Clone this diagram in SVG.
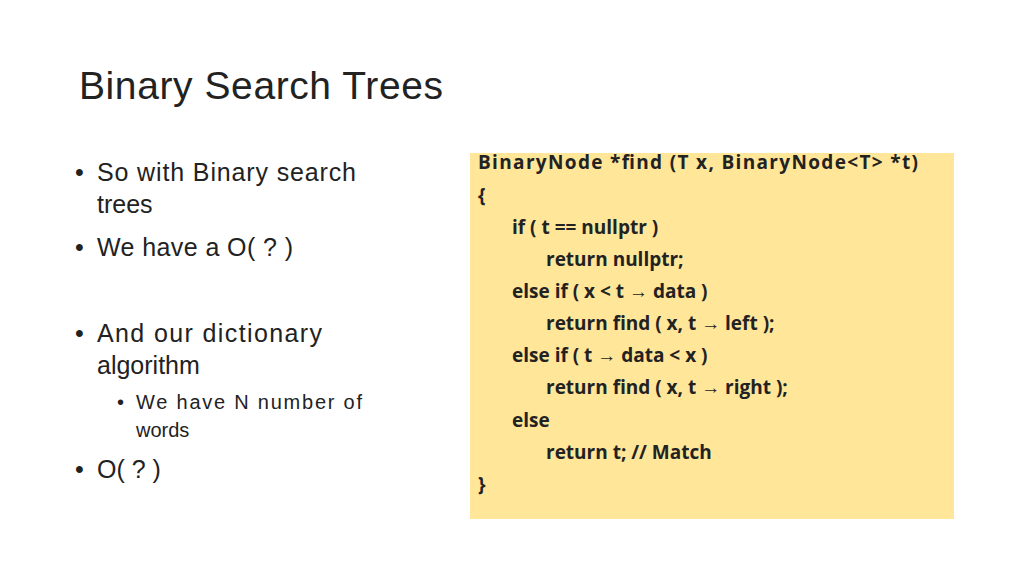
<svg xmlns="http://www.w3.org/2000/svg" width="1024" height="576" viewBox="0 0 1024 576">
<style>
.t{font-family:"Liberation Sans","Open Sans",sans-serif;fill:#222}
.b{font-size:25px}
.s{font-size:20px}
.c{font-family:"Open Sans","Liberation Sans",sans-serif;font-weight:bold;font-size:19px;fill:#222}
</style>
<rect width="1024" height="576" fill="#fff"/>
<text class="t" x="79" y="99" font-size="39" fill="#333" textLength="364">Binary Search Trees</text>
<g id="bullets">
<text class="t b" x="75" y="181">•</text><text class="t b" x="97" y="181" textLength="259">So with Binary search</text>
<text class="t b" x="97" y="213">trees</text>
<text class="t b" x="75" y="256">•</text><text class="t b" x="97" y="256" textLength="196">We have a O( ? )</text>
<text class="t b" x="75" y="342">•</text><text class="t b" x="97" y="342" textLength="225">And our dictionary</text>
<text class="t b" x="97" y="374">algorithm</text>
<text class="t s" x="117" y="409">•</text><text class="t s" x="136" y="409" textLength="226">We have N number of</text>
<text class="t s" x="136" y="437">words</text>
<text class="t b" x="75" y="478">•</text><text class="t b" x="97" y="478">O(  ?  )</text>
</g>
<g id="code">
<rect x="470" y="153" width="484" height="366" fill="#FFE699"/>
<text class="c" x="478" y="169" textLength="440">BinaryNode *find (T x, BinaryNode&lt;T&gt; *t)</text>
<text class="c" x="478" y="202">{</text>
<text class="c" x="512" y="234">if ( t == nullptr )</text>
<text class="c" x="546" y="266">return nullptr;</text>
<text class="c" x="512" y="298">else if ( x &lt; t → data )</text>
<text class="c" x="546" y="330">return find ( x, t → left );</text>
<text class="c" x="512" y="362">else if ( t → data &lt; x )</text>
<text class="c" x="546" y="394">return find ( x, t → right );</text>
<text class="c" x="512" y="427">else</text>
<text class="c" x="546" y="459">return t;    // Match</text>
<text class="c" x="478" y="491">}</text>
</g>
</svg>
